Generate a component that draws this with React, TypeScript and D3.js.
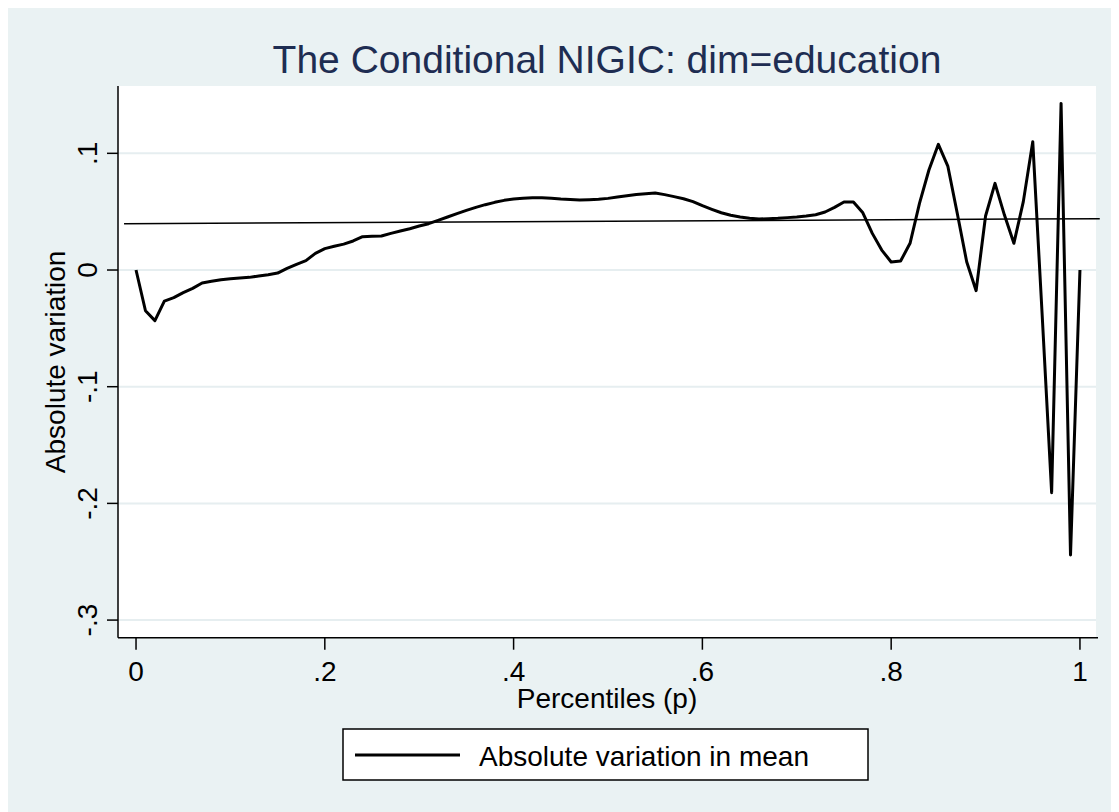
import React from "react";
import * as d3 from "d3";

const percentiles: number[] = d3.range(0, 101).map((i) => i / 100);
const absVariation: number[] = [
  0, -0.0349, -0.0434, -0.0266, -0.0237, -0.0194, -0.0157, -0.0111, -0.0097, -0.0083,
  -0.0074, -0.0069, -0.0063, -0.0051, -0.004, -0.0026, 0.0014, 0.0049, 0.008, 0.0143,
  0.0183, 0.0203, 0.0222, 0.0249, 0.0286, 0.0289, 0.0291, 0.0314, 0.0334, 0.0354,
  0.0377, 0.0397, 0.0426, 0.0454, 0.0483, 0.0511, 0.0537, 0.056, 0.058, 0.0597,
  0.0608, 0.0614, 0.062, 0.062, 0.0614, 0.0608, 0.0605, 0.06, 0.0603, 0.0606,
  0.0614, 0.0626, 0.0637, 0.0648, 0.0654, 0.066, 0.0646, 0.0629, 0.0611, 0.0586,
  0.0551, 0.052, 0.0491, 0.0469, 0.0454, 0.0443, 0.0437, 0.044, 0.0443, 0.0449,
  0.0454, 0.0463, 0.0474, 0.0497, 0.0537, 0.0583, 0.0583, 0.049, 0.0314, 0.0171,
  0.0069, 0.0077, 0.0229, 0.0571, 0.0857, 0.1077, 0.0891, 0.0486, 0.0071, -0.0177,
  0.0463, 0.0743, 0.0471, 0.0229, 0.0586, 0.11, -0.039, -0.1908, 0.1428, -0.2442, 0,
];
const fitP: number[] = [-0.0127, 1.021];
const fitV: number[] = [0.0397, 0.044];
const xTicks: number[] = [0, 0.2, 0.4, 0.6, 0.8, 1];
const xTickLabels: string[] = ["0", ".2", ".4", ".6", ".8", "1"];
const yTicks: number[] = [-0.3, -0.2, -0.1, 0, 0.1];
const yTickLabels: string[] = ["-.3", "-.2", "-.1", "0", ".1"];
const titleText = "The Conditional NIGIC: dim=education";
const xTitle = "Percentiles (p)";
const yTitle = "Absolute variation";
const legendLabel = "Absolute variation in mean";

const FONT = "'Liberation Sans', Arial, Helvetica, sans-serif";

export default function App() {
  const left = 118, right = 1096, top = 86, bottom = 637.7;
  const x = d3.scaleLinear().domain([-0.0191, 1.017]).range([left, right]);
  const y = d3.scaleLinear().domain([-0.3151, 0.1577]).range([bottom, top]);

  const line = d3
    .line<number>()
    .x((_, i) => x(percentiles[i]))
    .y((d) => y(d));
  const fitLine = d3
    .line<number>()
    .x((_, i) => x(fitP[i]))
    .y((d) => y(d));

  return (
    <svg width={1111} height={804} style={{ display: "block" }}>
      <g transform="translate(-8,-8)">
        <rect x={7} y={8} width={1112} height={804} fill="#eaf2f3" />
        <rect x={left} y={top} width={right - left} height={bottom - top} fill="#ffffff" />
        {yTicks.map((t) => (
          <line key={"g" + t} x1={left} x2={right} y1={y(t)} y2={y(t)} stroke="#e6eef0" strokeWidth={2} />
        ))}
        <path d={fitLine(fitV) || ""} fill="none" stroke="#000" strokeWidth={1.5} />
        <path d={line(absVariation) || ""} fill="none" stroke="#000" strokeWidth={3} strokeLinejoin="round" />
        <line x1={left} x2={left} y1={top} y2={bottom} stroke="#000" strokeWidth={1.5} />
        <line x1={left} x2={right + 2} y1={bottom} y2={bottom} stroke="#000" strokeWidth={1.5} />
        {yTicks.map((t, i) => (
          <g key={"y" + t}>
            <line x1={left - 11} x2={left} y1={y(t)} y2={y(t)} stroke="#000" strokeWidth={1.5} />
            <text
              transform={`translate(97,${y(t)}) rotate(-90)`}
              textAnchor="middle"
              fontFamily={FONT}
              fontSize={28}
              fill="#000"
            >
              {yTickLabels[i]}
            </text>
          </g>
        ))}
        {xTicks.map((t, i) => (
          <g key={"x" + t}>
            <line x1={x(t)} x2={x(t)} y1={bottom} y2={bottom + 12} stroke="#000" strokeWidth={1.5} />
            <text x={x(t)} y={681} textAnchor="middle" fontFamily={FONT} fontSize={28} fill="#000">
              {xTickLabels[i]}
            </text>
          </g>
        ))}
        <text x={(left + right) / 2} y={708} textAnchor="middle" fontFamily={FONT} fontSize={28} fill="#000">
          {xTitle}
        </text>
        <text
          transform={`translate(65,${(top + bottom) / 2}) rotate(-90)`}
          textAnchor="middle"
          fontFamily={FONT}
          fontSize={28}
          fill="#000"
        >
          {yTitle}
        </text>
        <text x={(left + right) / 2} y={73} textAnchor="middle" fontFamily={FONT} fontSize={39} fill="#1e2d52">
          {titleText}
        </text>
        <rect x={343} y={729} width={525} height={51} fill="#fff" stroke="#000" strokeWidth={1.5} />
        <line x1={355} x2={460} y1={755} y2={755} stroke="#000" strokeWidth={3} />
        <text x={479} y={766} fontFamily={FONT} fontSize={28} fill="#000">
          {legendLabel}
        </text>
      </g>
    </svg>
  );
}
